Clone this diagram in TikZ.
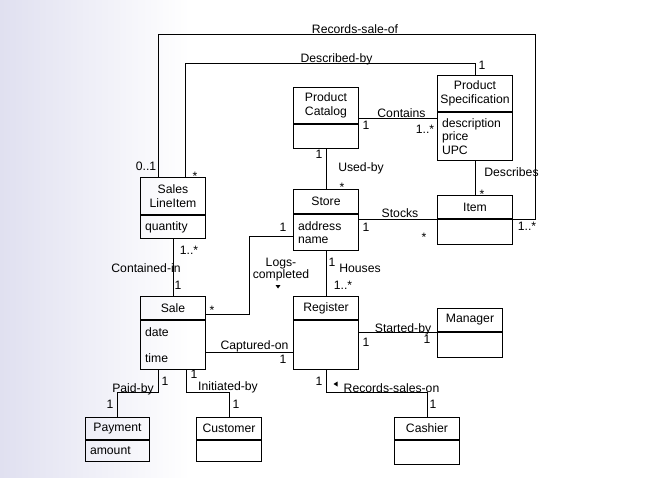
\documentclass[tikz,border=0pt]{standalone}
\usepackage{fontspec}
\setmainfont{Liberation Sans}
\usetikzlibrary{calc}
\definecolor{bgleft}{RGB}{224,224,240}
\tikzset{
	classhead/.style 2 args={draw, line width=1pt, inner sep=0pt, align=center, anchor=north west, minimum width=#1, minimum height=#2},
	classbody/.style 2 args={draw, line width=1pt, inner xsep=4.5pt, inner ysep=0pt, align=left, anchor=north, text width=#1, minimum height=#2},
	assoc/.style={line width=0.8pt},
	lbl/.style={anchor=base, inner sep=0pt},
}

\begin{document}
\begin{tikzpicture}[x=1pt, y=-1pt, font=\fontsize{12.2pt}{13.5pt}\selectfont]
		%%%%% BACKGROUND %%%%%
		\fill[white] (0,0) rectangle (647,478);
		\fill[left color=bgleft, right color=white] (0,0) rectangle (190,478);
		\useasboundingbox (0,0) rectangle (647,478);
		
		%%%%% CLASSES %%%%%
		\node[classhead={65pt}{36pt}] (pcat) at (293,87) {Product\\Catalog};
		\node[classbody={56pt}{24pt}] (pcatb) at (pcat.south) {};
		\node[classhead={75pt}{36pt}] (pspec) at (437,75) {Product\\Specification};
		\node[classbody={66pt}{48pt}] (pspecb) at (pspec.south) {description\\price\\UPC};
		\node[classhead={65pt}{24pt}] (store) at (293,189) {Store};
		\node[classbody={56pt}{36pt}] (storeb) at (store.south) {address\\name};
		\node[classhead={75pt}{23pt}] (item) at (437,195) {Item};
		\node[classbody={66pt}{25pt}] (itemb) at (item.south) {};
		\node[classhead={65pt}{37pt}] (sli) at (140,177) {Sales\\LineItem};
		\node[classbody={56pt}{23pt}] (slib) at (sli.south) {quantity};
		\node[classhead={65pt}{23pt}] (sale) at (140,296) {Sale};
		\node[classbody={56pt}{49pt}] (saleb) at (sale.south) {date\\[12.5pt]time};
		\node[classhead={65pt}{23pt}] (reg) at (293,296) {Register};
		\node[classbody={56pt}{49pt}] (regb) at (reg.south) {};
		\node[classhead={65pt}{23pt}] (mgr) at (437,308) {Manager};
		\node[classbody={56pt}{25pt}] (mgrb) at (mgr.south) {};
		\node[classhead={64pt}{22pt}] (pay) at (85,417) {Payment};
		\node[classbody={55pt}{21pt}] (payb) at (pay.south) {amount};
		\node[classhead={65pt}{22pt}] (cust) at (196,417) {Customer};
		\node[classbody={56pt}{21pt}] (custb) at (cust.south) {};
		\node[classhead={65pt}{22pt}] (cash) at (394,417) {Cashier};
		\node[classbody={56pt}{24pt}] (cashb) at (cash.south) {};
		
		%%%%% ASSOCIATIONS %%%%%
		\coordinate (rsCorner) at (535,34);
		\draw[assoc] ([xshift=-14.5pt]sli.north) |- (rsCorner) |- (itemb.north east);
		\draw[assoc] ([xshift=12.5pt]sli.north) |- ([yshift=12pt]pspec.north) -- (pspec.north);
		\draw[assoc] ([yshift=-13pt]pcat.east) -- ([yshift=-13pt]pcat.east -| pspec.west);
		\draw[assoc] (pcatb.south) -- (store.north);
		\draw[assoc] (pspecb.south) -- (item.north);
		\draw[assoc] (storeb.east |- itemb.north west) -- (itemb.north west);
		\draw[assoc] (slib.south) -- (sale.north);
		\coordinate (lcCorner) at (249,314);
		\draw[assoc] ([yshift=-4pt]storeb.west) -| (lcCorner) -- (lcCorner -| sale.east);
		\draw[assoc] (storeb.south) -- (reg.north);
		\draw[assoc] ([yshift=-7.5pt]saleb.east) -- ([yshift=-7.5pt]saleb.east -| regb.west);
		\draw[assoc] (regb.east |- mgrb.north west) -- (mgrb.north west);
		\draw[assoc] (regb.south) |- ([yshift=25pt]cash.north) -- (cash.north);
		\draw[assoc] ([xshift=-14.5pt]saleb.south) |- ([yshift=25pt]pay.north) -- (pay.north);
		\draw[assoc] ([xshift=13.5pt]saleb.south) |- ([yshift=25pt]cust.north) -- (cust.north);
		
		%%%%% NAMES %%%%%
		\node[lbl] (nRecSaleOf) at (355,34) {Records-sale-of};
		\node[lbl] (nDescBy) at (336.5,63) {Described-by};
		\node[lbl] (nContains) at (401.5,118) {Contains};
		\node[lbl] (nUsedBy) at (361,172) {Used-by};
		\node[lbl] (nDescribes) at (511.5,177) {Describes};
		\node[lbl] (nStocks) at (400,218) {Stocks};
		\node[lbl] (nContIn) at (146,272) {Contained-in};
		\node[anchor=north, inner sep=0pt, align=center, font=\fontsize{12.2pt}{11pt}\selectfont] (nLogs) at (281,258) {Logs-\\completed};
		\node[lbl] (nHouses) at (360,272) {Houses};
		\node[lbl] (nCaptOn) at (254.5,349.5) {Captured-on};
		\node[lbl] (nStartBy) at (403,332) {Started-by};
		\node[lbl] (nRecSalesOn) at (391.5,392) {Records-sales-on};
		\node[lbl] (nPaidBy) at (133,392) {Paid-by};
		\node[lbl] (nInitBy) at (228,390) {Initiated-by};
		\fill (275.5,285) -- (280.5,285) -- (278,288.5) -- cycle;
		\fill (337.5,381.5) -- (337.5,386.5) -- (333.5,384) -- cycle;
		
		%%%%% MULTIPLICITIES %%%%%
		\node[lbl] (mRsSli) at (146,171) {0..1};
		\node[lbl] (mRsItem) at (527,230) {1..*};
		\node[lbl] (mDbSpec) at (482,70) {1};
		\node[lbl] (mDbSli) at (195,180.5) {*};
		\node[lbl] (mCoCat) at (366,130) {1};
		\node[lbl] (mCoSpec) at (425,134) {1..*};
		\node[lbl] (mUbCat) at (319,159) {1};
		\node[lbl] (mUbStore) at (342,192) {*};
		\node[lbl] (mDeItem) at (482,198.5) {*};
		\node[lbl] (mStStore) at (366,232) {1};
		\node[lbl] (mStItem) at (424,241.5) {*};
		\node[lbl] (mCiSli) at (189,254) {1..*};
		\node[lbl] (mCiSale) at (178,289) {1};
		\node[lbl] (mLcStore) at (283,231) {1};
		\node[lbl] (mLcSale) at (212,314.5) {*};
		\node[lbl] (mHoStore) at (332,266) {1};
		\node[lbl] (mHoReg) at (343,289) {1..*};
		\node[lbl] (mCaReg) at (283,363) {1};
		\node[lbl] (mSbReg) at (366,346) {1};
		\node[lbl] (mSbMgr) at (427,343) {1};
		\node[lbl] (mRsReg) at (319,385) {1};
		\node[lbl] (mRsCash) at (433,408) {1};
		\node[lbl] (mPbSale) at (165,385) {1};
		\node[lbl] (mPbPay) at (110,408) {1};
		\node[lbl] (mIbSale) at (194,378) {1};
		\node[lbl] (mIbCust) at (236,408) {1};
\end{tikzpicture}
\end{document}
